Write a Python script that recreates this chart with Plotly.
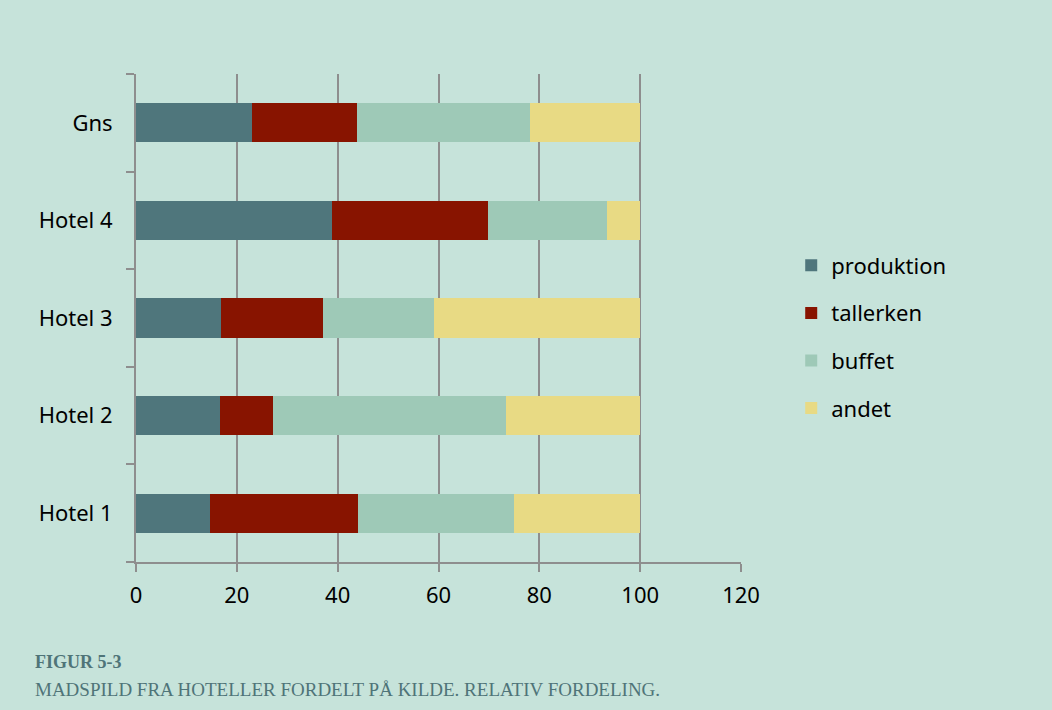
import plotly.graph_objects as go

hotels = ["Hotel 1", "Hotel 2", "Hotel 3", "Hotel 4", "Gns"]
produktion = [14.7, 16.6, 16.8, 38.8, 23.0]
tallerken = [29.3, 10.5, 20.2, 31.1, 20.8]
buffet = [31.0, 46.2, 22.2, 23.6, 34.4]
andet = [25.0, 26.7, 40.8, 6.5, 21.8]
x_ticks = [0, 20, 40, 60, 80, 100, 120]

series = [
    ("produktion", produktion, "#4f767c"),
    ("tallerken", tallerken, "#881400"),
    ("buffet", buffet, "#9ec9b7"),
    ("andet", andet, "#e8da84"),
]

BG = "#c6e3da"
GRID = "#8e8e8e"
TICKFONT = dict(family="Noto Sans, Open Sans, sans-serif", size=22, color="#000000")

fig = go.Figure()
for name, vals, color in series:
    fig.add_trace(go.Bar(
        y=hotels, x=vals, name=name, orientation="h",
        marker=dict(color=color, line=dict(width=0)),
        legendgroup=name,
    ))

fig.update_layout(
    width=1052, height=710,
    barmode="stack", bargap=0.6,
    paper_bgcolor=BG, plot_bgcolor=BG,
    margin=dict(l=136, r=311, t=74, b=148, pad=0),
    showlegend=True,
    legend=dict(
        x=1.083, y=(562 - 337) / 488, xanchor="left", yanchor="middle",
        font=TICKFONT, traceorder="grouped", tracegroupgap=16,
        bgcolor="rgba(0,0,0,0)", itemwidth=30,
    ),
    xaxis=dict(
        range=[0, 120], tickvals=x_ticks, ticktext=[str(v) for v in x_ticks],
        showgrid=True, gridcolor=GRID, gridwidth=2,
        showline=True, linecolor=GRID, linewidth=2,
        ticks="outside", ticklen=8, tickwidth=2, tickcolor=GRID,
        tickfont=TICKFONT, zeroline=False, ticklabelstandoff=5,
        mirror=False,
    ),
    yaxis=dict(
        type="category", categoryorder="array", categoryarray=hotels,
        showgrid=False, showline=True, linecolor=GRID, linewidth=2,
        ticks="outside", ticklen=8, tickwidth=2, tickcolor=GRID,
        tickson="boundaries", tickfont=TICKFONT, ticklabelstandoff=17,
        zeroline=False,
    ),
    annotations=[
        dict(
            text="<b>FIGUR 5-3</b>", xref="paper", yref="paper",
            x=(33 - 136) / 605, y=-(662 - 562) / 488, xanchor="left", yanchor="middle",
            showarrow=False,
            font=dict(family="Liberation Serif, Times New Roman, serif", size=18, color="#4f7478"),
        ),
        dict(
            text="MADSPILD FRA HOTELLER FORDELT PÅ KILDE. RELATIV FORDELING.",
            xref="paper", yref="paper",
            x=(33 - 136) / 605, y=-(689 - 562) / 488,
            xanchor="left", yanchor="middle", showarrow=False,
            font=dict(family="Liberation Serif, Times New Roman, serif", size=19, color="#4f7478"),
        ),
    ],
)

fig.write_html("out.html")
